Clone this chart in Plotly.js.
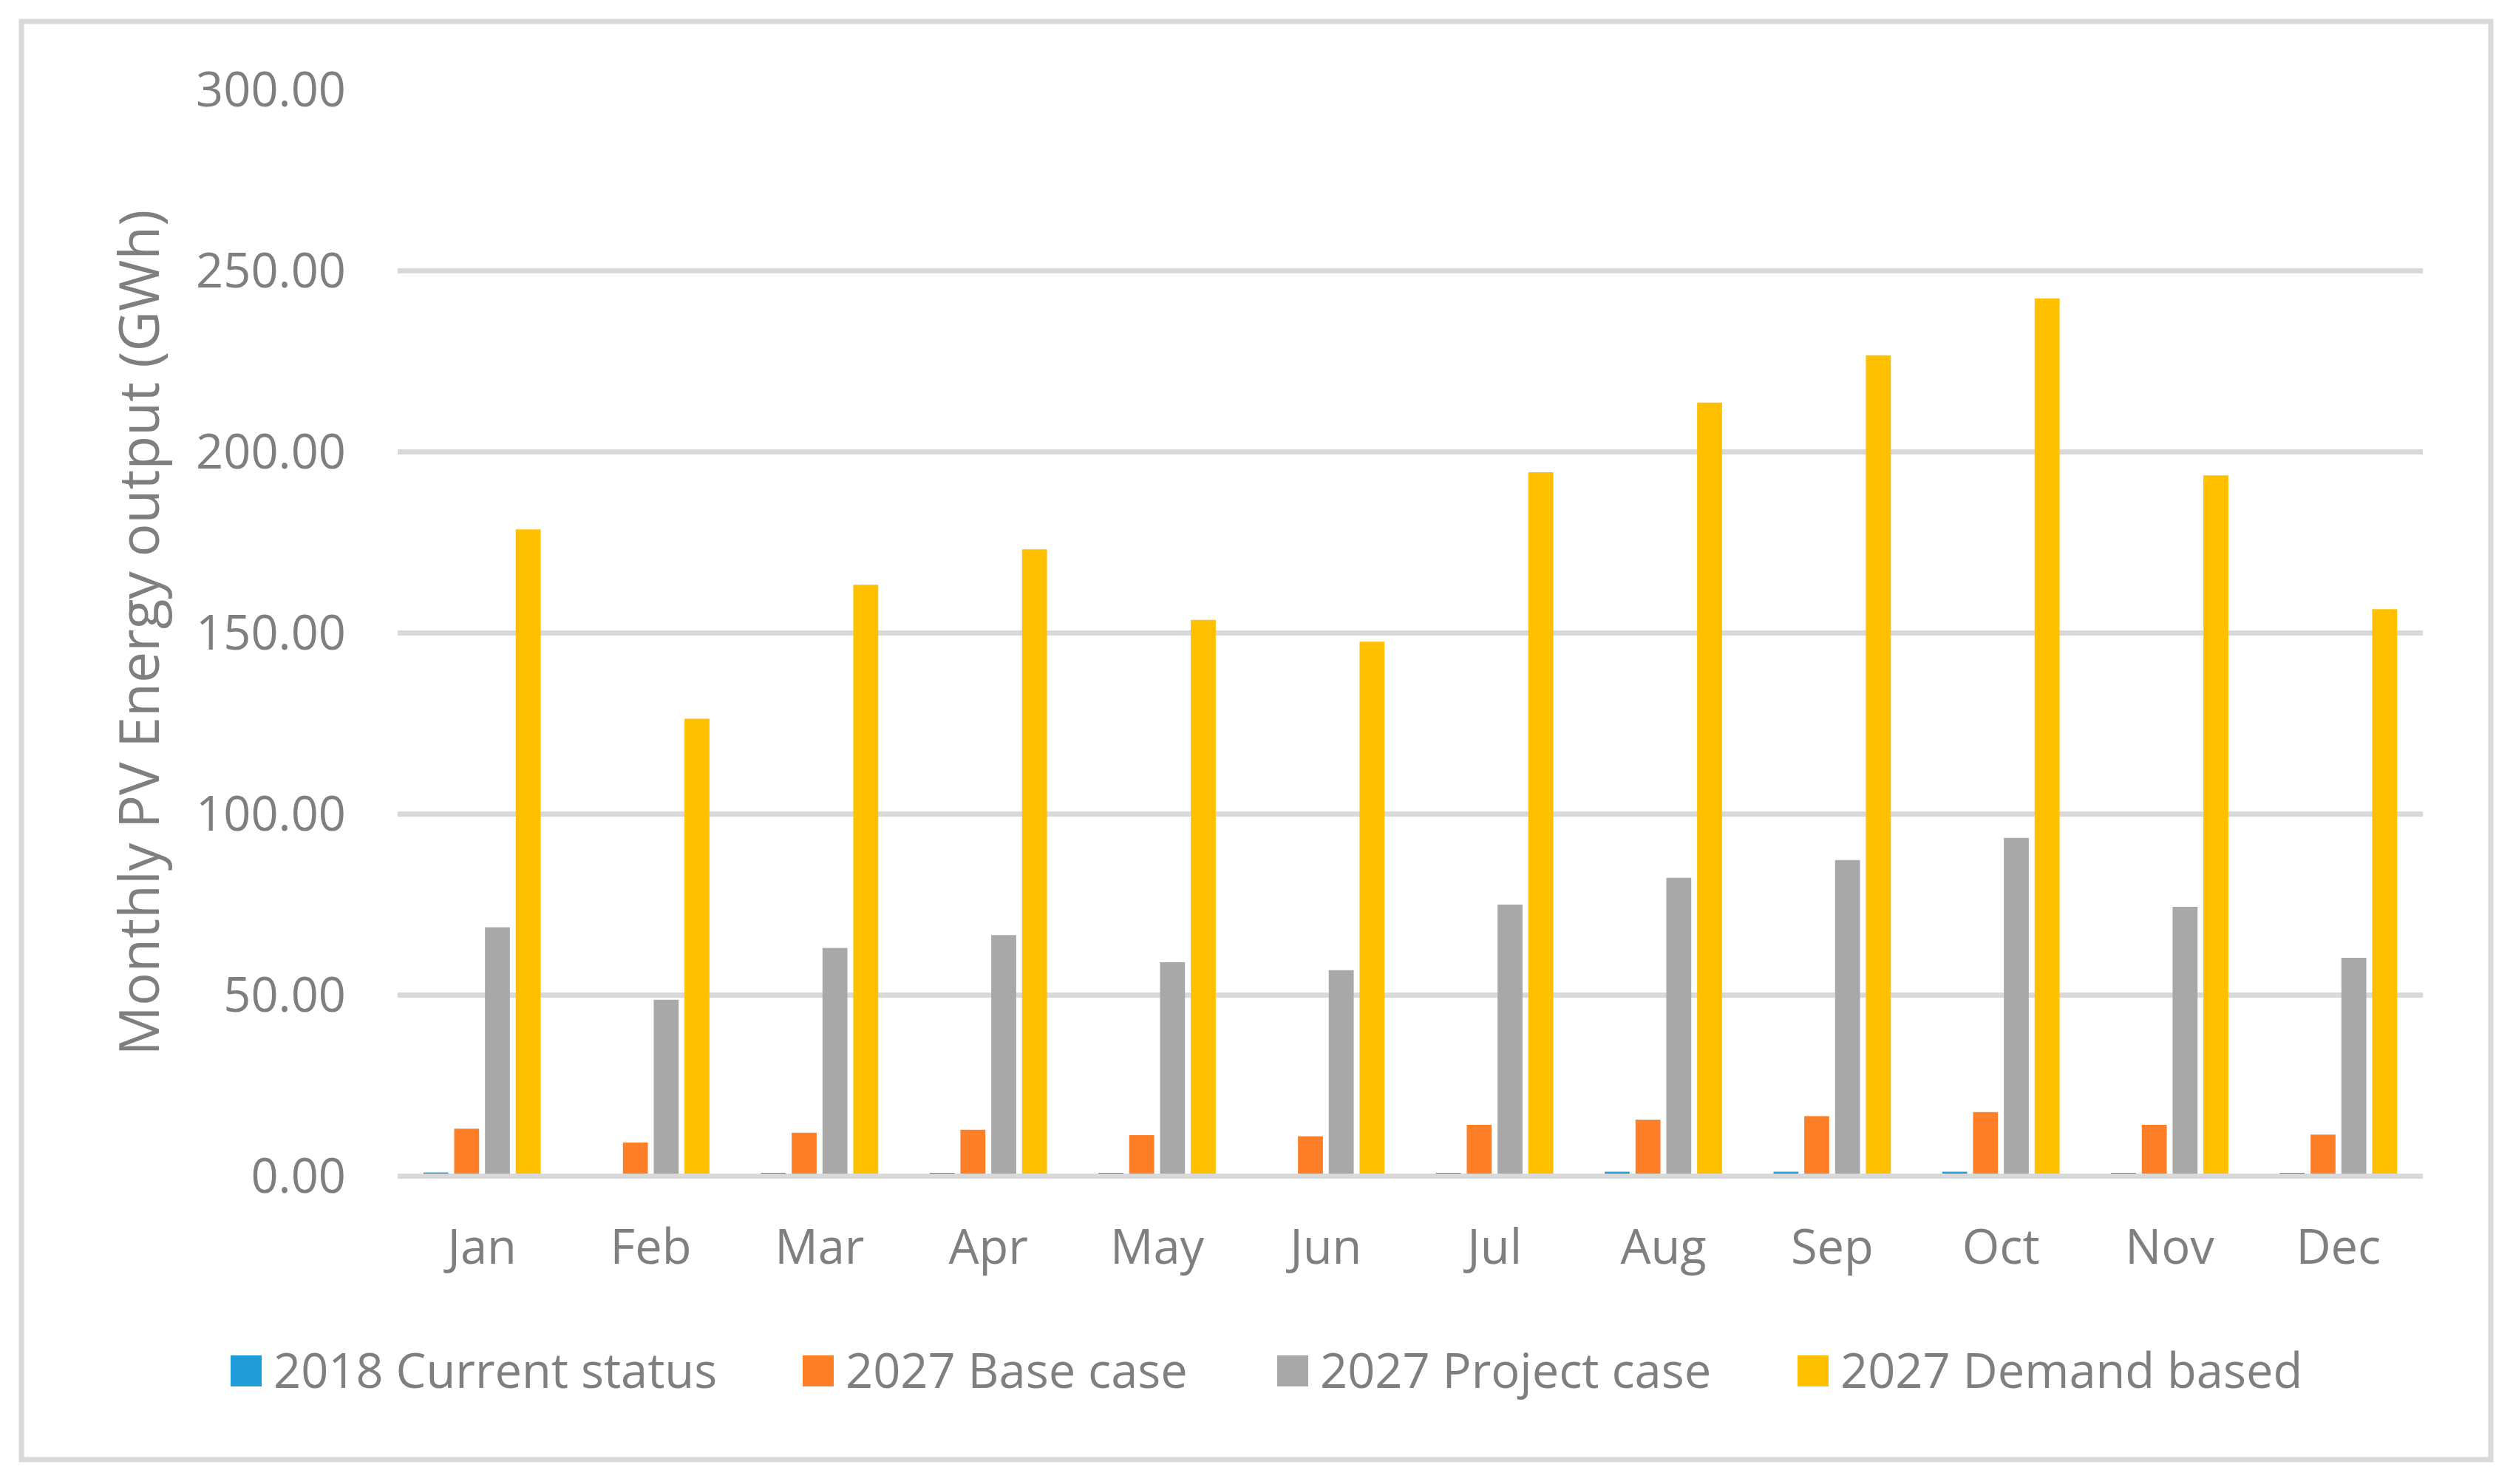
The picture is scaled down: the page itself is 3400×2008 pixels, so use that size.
<!DOCTYPE html>
<html>
<head>
<meta charset="utf-8">
<script src="https://cdn.plot.ly/plotly-3.0.1.min.js"></script>
<style>
  html, body { margin: 0; padding: 0; background: #fff; }
  #chart { width: 3400px; height: 2008px; }
</style>
</head>
<body>
<div id="chart"></div>
<script>
// monthly PV output, GWh
var months = ['Jan', 'Feb', 'Mar', 'Apr', 'May', 'Jun', 'Jul', 'Aug', 'Sep', 'Oct', 'Nov', 'Dec'];
var seriesNames = ['2018 Current status', '2027 Base case', '2027 Project case', '2027 Demand based'];
var current2018 = [0.9, 0, 0.8, 0.8, 0.8, 0, 0.8, 1.1, 1.1, 1.1, 0.8, 0.8];
var base2027 = [13.0, 9.2, 11.9, 12.7, 11.2, 10.9, 14.1, 15.5, 16.5, 17.6, 14.1, 11.4];
var project2027 = [68.6, 48.6, 62.9, 66.5, 59.0, 56.8, 74.9, 82.3, 87.2, 93.3, 74.3, 60.2];
var demand2027 = [178.5, 126.2, 163.2, 173.0, 153.5, 147.5, 194.3, 213.5, 226.6, 242.3, 193.4, 156.5];

var colors = ['#1e9dd9', '#fe7f27', '#a8a8a8', '#ffc000'];
var series = [current2018, base2027, project2027, demand2027];

var grey = '#7f7f7f';
var gridColor = '#d9d9d9';
var font = 'Open Sans, Noto Sans, sans-serif';

// plot area in page pixels
var L = 538, R = 3278, T = 121, B = 1591;
var W = R - L, H = B - T;
function fx(x) { return (x - L) / W; }
function fy(y) { return (B - y) / H; }

var data = [];
for (var i = 0; i < series.length; i++) {
  data.push({
    type: 'bar',
    name: seriesNames[i],
    x: months,
    y: series[i],
    marker: { color: colors[i] },
    showlegend: false,
    hoverinfo: 'skip'
  });
}

// hand-made legend, big square swatches like the office chart
var legendX = [312, 1086, 1728, 2432];
var shapes = [];
var annotations = [];
for (var j = 0; j < seriesNames.length; j++) {
  shapes.push({
    type: 'rect', xref: 'paper', yref: 'paper',
    x0: fx(legendX[j]), x1: fx(legendX[j] + 42),
    y0: fy(1876), y1: fy(1834),
    fillcolor: colors[j], line: { width: 0 }
  });
  annotations.push({
    xref: 'paper', yref: 'paper',
    x: fx(legendX[j] + 56), y: fy(1853),
    xanchor: 'left', yanchor: 'middle',
    text: seriesNames[j], showarrow: false,
    font: { family: font, size: 65, color: grey }
  });
}

// outer frame
shapes.push({
  type: 'rect', xref: 'paper', yref: 'paper',
  x0: fx(29), x1: fx(3370), y0: fy(1975), y1: fy(29),
  line: { color: gridColor, width: 7 }, fillcolor: 'rgba(0,0,0,0)'
});

var layout = {
  width: 3400,
  height: 2008,
  margin: { l: L, r: 3400 - R, t: T, b: 2008 - B, pad: 0 },
  paper_bgcolor: '#ffffff',
  plot_bgcolor: '#ffffff',
  barmode: 'group',
  bargap: 0.27,
  bargroupgap: 0.19,
  showlegend: false,
  font: { family: font, size: 65, color: grey },
  xaxis: {
    type: 'category',
    showgrid: false,
    zeroline: false,
    showline: false,
    ticks: '',
    ticklabelstandoff: 53,
    tickfont: { family: font, size: 65, color: grey },
    fixedrange: true
  },
  yaxis: {
    range: [0, 300],
    dtick: 50,
    tick0: 0,
    tickformat: '.2f',
    showgrid: true,
    gridcolor: gridColor,
    gridwidth: 7,
    zeroline: true,
    zerolinecolor: gridColor,
    zerolinewidth: 7,
    zerolinelayer: 'above traces',
    showline: false,
    ticks: '',
    ticklabelstandoff: 69,
    tickfont: { family: font, size: 65, color: grey },
    title: {
      text: 'Monthly PV Energy output (GWh)',
      font: { family: font, size: 75, color: grey },
      standoff: 24
    },
    automargin: false,
    fixedrange: true
  },
  shapes: shapes,
  annotations: annotations
};

Plotly.newPlot('chart', data, layout, { displayModeBar: false, staticPlot: true });
</script>
</body>
</html>
